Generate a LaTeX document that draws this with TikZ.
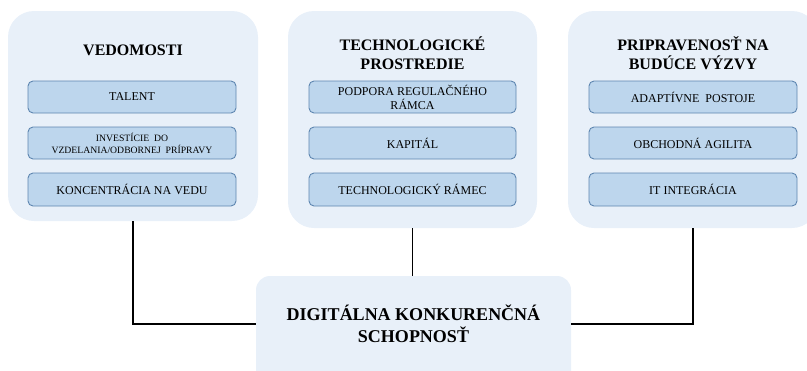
\documentclass[tikz,border=0pt]{standalone}
\usepackage{fontspec}
\setmainfont{Liberation Serif}
\begin{document}
\begin{tikzpicture}[x=1pt,y=-1pt,
  panel/.style={fill=panelfill, draw=none, rounded corners=26pt, inner sep=0pt},
  item/.style={fill=itemfill, draw=itemline, line width=0.9pt, rounded corners=5pt,
    minimum width=208pt, minimum height=32pt, inner sep=1pt, align=center,
    font=\fontsize{12}{14}\selectfont},
  smallitem/.style={item, font=\fontsize{9.7}{12}\selectfont},
  heading/.style={align=center, font=\fontsize{16}{19}\selectfont\bfseries},
  link/.style={draw=black, line width=1.2pt}]
\definecolor{panelfill}{RGB}{232,240,249}
\definecolor{itemfill}{RGB}{189,214,237}
\definecolor{itemline}{RGB}{94,134,176}
\useasboundingbox (0,0) rectangle (807,370);
\clip (0,0) rectangle (807,370);

% three category panels
\node[panel, minimum width=250pt, minimum height=210pt] (vedo) at (133,116) {};
\node[panel, minimum width=249pt, minimum height=217pt] (tech) at (412.5,119.5) {};
\node[panel, minimum width=250pt, minimum height=217pt] (prip) at (693,119.5) {};

% panel headings
\node[heading] (hvedo) at (133,50) {VEDOMOSTI};
\node[heading] (htech) at (412.5,53.5) {TECHNOLOGICKÉ\\PROSTREDIE};
\node[heading] (hprip) at (693,53.5) {PRIPRAVENOSŤ NA\\BUDÚCE VÝZVY};

% items of the first panel
\node[item] (v1) at (132,97) {TALENT};
\node[smallitem] (v2) at (132,143) {INVESTÍCIE\ \ DO\\VZDELANIA/ODBORNEJ\ \ PRÍPRAVY};
\node[item, minimum height=33pt] (v3) at (132,189.5) {KONCENTRÁCIA NA VEDU};

% items of the second panel
\node[item, minimum width=207pt] (t1) at (412.5,97) {PODPORA REGULAČNÉHO\\RÁMCA};
\node[item, minimum width=207pt] (t2) at (412.5,143) {KAPITÁL};
\node[item, minimum width=207pt, minimum height=33pt] (t3) at (412.5,189.5) {TECHNOLOGICKÝ RÁMEC};

% items of the third panel
\node[item] (p1) at (693,97) {ADAPTÍVNE\ \ POSTOJE};
\node[item] (p2) at (693,143) {OBCHODNÁ AGILITA};
\node[item, minimum height=33pt] (p3) at (693,189.5) {IT INTEGRÁCIA};

% central result box, running past the lower edge
\node[panel, rounded corners=14pt, minimum width=315pt, minimum height=120pt] (dks) at (413.5,336) {};
\node[align=center, font=\fontsize{18}{22}\selectfont\bfseries] (dkstext) at (413.5,324)
      {DIGITÁLNA KONKURENČNÁ\\SCHOPNOSŤ};

% connectors
\draw[link] (vedo.south) |- (dks.west |- dkstext.center);
\draw[link] (tech.south) -- (dks.north -| tech.south);
\draw[link] (prip.south) |- (dks.east |- dkstext.center);
\end{tikzpicture}
\end{document}
